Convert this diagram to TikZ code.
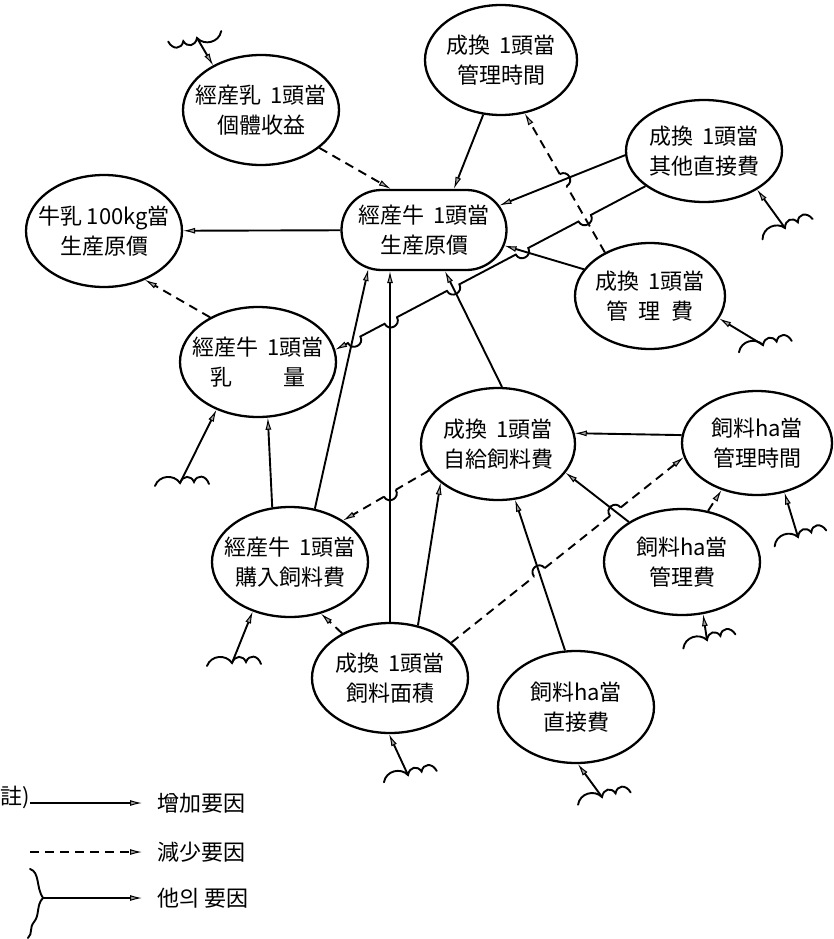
\documentclass[tikz,border=0pt]{standalone}
\usepackage{fontspec}
\newfontfamily\cjk{Noto Sans CJK JP}
\usetikzlibrary{shapes.geometric,shapes.misc,arrows.meta,calc}
\newcommand{\one}{\hspace{0.4em}1}
\begin{document}
\begin{tikzpicture}[x=1pt,y=-1pt,
  ln/.style={line width=1.9pt},
  inc/.style={ln,-{Latex[length=12pt,width=6pt,fill=gray!70,line width=1pt]}},
  dec/.style={inc,dash pattern=on 9pt off 6pt},
  dln/.style={ln,dash pattern=on 9pt off 6pt},
  ell/.style={ellipse,draw,line width=2.3pt,inner sep=0pt},
  txt/.style={align=center,font=\cjk\fontsize{22}{30}\selectfont,inner sep=0pt},
  wave/.style={line width=1.9pt,line cap=round},
  ext/.pic={\draw[wave] (-25,3) .. controls (-21,-8) and (-6,-9) .. (0,0)
      .. controls (3,-8) and (11,-8) .. (14,-1) .. controls (17,-9) and (26,-8) .. (29,1);}
]
\useasboundingbox (0,0) rectangle (833,939);

% nodes
\node[ell,minimum width=156pt,minimum height=110pt] (A) at (261,110) {};
\node[txt] (At) at (A) {經産乳\one 頭當\\個體收益};
\node[ell,minimum width=156pt,minimum height=112pt] (B) at (104,231) {};
\node[txt] (Bt) at (B) {牛乳 100kg當\\生産原價};
\node[rounded rectangle,draw,line width=2.3pt,inner sep=0pt,minimum width=165pt,minimum height=80pt] (C) at (424,230) {};
\node[txt] (Ct) at (C) {經産牛\one 頭當\\生産原價};
\node[ell,minimum width=152pt,minimum height=110pt] (D) at (501,60) {};
\node[txt] (Dt) at (D) {成換\one 頭當\\管理時間};
\node[ell,minimum width=156pt,minimum height=102pt] (E) at (704,151) {};
\node[txt] (Et) at (E) {成換\one 頭當\\其他直接費};
\node[ell,minimum width=150pt,minimum height=106pt] (F) at (650,296) {};
\node[txt] (Ft) at (F) {成換\one 頭當\\管\hspace{0.5em}理\hspace{0.5em}費};
\node[ell,minimum width=156pt,minimum height=110pt] (G) at (258,362) {};
\node[txt] (Gt) at (G) {經産牛\one 頭當\\乳\hspace{2.3em}量};
\node[ell,minimum width=154pt,minimum height=112pt] (H) at (498,444) {};
\node[txt] (Ht) at (H) {成換\one 頭當\\自給飼料費};
\node[ell,minimum width=150pt,minimum height=104pt] (I) at (757,443) {};
\node[txt] (It) at (I) {飼料ha當\\管理時間};
\node[ell,minimum width=156pt,minimum height=110pt] (J) at (290,562) {};
\node[txt] (Jt) at (J) {經産牛\one 頭當\\購入飼料費};
\node[ell,minimum width=156pt,minimum height=106pt] (K) at (682,562) {};
\node[txt] (Kt) at (K) {飼料ha當\\管理費};
\node[ell,minimum width=156pt,minimum height=110pt] (L) at (390,678) {};
\node[txt] (Lt) at (L) {成換\one 頭當\\飼料面積};
\node[ell,minimum width=156pt,minimum height=112pt] (M) at (576,707) {};
\node[txt] (Mt) at (M) {飼料ha當\\直接費};

% external factors
\coordinate (xA) at (197,38);
\coordinate (xE) at (785,228);
\coordinate (xF) at (763,345);
\coordinate (xG) at (180,483);
\coordinate (xJ) at (232,663);
\coordinate (xL) at (408,775);
\coordinate (xM) at (602,797);
\coordinate (xK) at (707,640);
\coordinate (xI) at (798,537);
\pic[rotate=189] at (xA) {ext};
\pic[rotate=20] at (xE) {ext};
\pic[rotate=10] at (xF) {ext};
\pic at (xG) {ext};
\pic at (xJ) {ext};
\pic[rotate=10] at (xL) {ext};
\pic[rotate=11] at (xM) {ext};
\pic[rotate=13] at (xK) {ext};
\pic[rotate=15] at (xI) {ext};
\draw[inc] (xA) -- (A.137);
\draw[inc] (xE) -- (E.-36);
\draw[inc] (xF) -- (F.-18);
\draw[inc] (xG) -- (G.-131);
\draw[inc] (xJ) -- (J.-127);
\draw[inc] (xL) -- (L.-91);
\draw[inc] (xM) -- (M.-88);
\draw[inc] (xK) -- (K.-68);
\draw[inc] (xI) -- (I.-61);

% connectors
\draw[dec] (A.-33) -- (C.129);
\draw[inc] (C) -- (B);
\draw[dec] (G.137) -- (B.-50);
\draw[inc] (D.-108) -- (C.54);
\draw[inc] (E.183) -- (C.18);
\draw[inc] (F.158) -- (C.-11);
\draw[inc] (H.86) -- (C.-63);
\draw[inc] (L.north) -- (L.north |- C.south);
\draw[inc] (J.65) -- (C.-145);
\draw[inc] (J.108) -- (G.-80);
\draw[inc] (I.174) -- (H.8);
\draw[inc] (K.143) -- (H.-23);
\draw[inc] (M.101) -- (H.-73);
\draw[inc] (L.62) -- (H.-146);
\draw[dec] (L.137) -- (J.-59);
\draw[dec] (K.63) -- (I.-127);

% dashed connectors with hops
\path ($(F.136)!0.477!(D.-66)$) coordinate (fd1) ($(F.136)!0.563!(D.-66)$) coordinate (fd2);
\draw[dln] (F.136) -- (fd1);
\draw[ln] (fd1) .. controls ($(fd1)+(8.1,-4.7)$) and ($(fd2)+(8.1,-4.7)$) .. (fd2);
\draw[dec] (fd2) -- (D.-66);

\path ($(H.-159)!0.386!(J.38)$) coordinate (hj1) ($(H.-159)!0.524!(J.38)$) coordinate (hj2);
\draw[dln] (H.-159) -- (hj1);
\draw[ln] (hj1) .. controls ($(hj1)+(4.7,8)$) and ($(hj2)+(4.7,8)$) .. (hj2);
\draw[dec] (hj2) -- (J.38);

\path ($(L.30)!0.356!(I.-169)$) coordinate (li1) ($(L.30)!0.402!(I.-169)$) coordinate (li2)
      ($(L.30)!0.683!(I.-169)$) coordinate (li3) ($(L.30)!0.729!(I.-169)$) coordinate (li4);
\draw[dln] (L.30) -- (li1);
\draw[ln] (li1) .. controls ($(li1)+(-5.8,-7.3)$) and ($(li2)+(-5.8,-7.3)$) .. (li2);
\draw[dln] (li2) -- (li3);
\draw[ln] (li3) .. controls ($(li3)+(-5.8,-7.3)$) and ($(li4)+(-5.8,-7.3)$) .. (li4);
\draw[dec] (li4) -- (I.-169);

% solid connector with hops (bridges bulge downward)
\path ($(E.211)!0.176!(G.9)$) coordinate (eg1) ($(E.211)!0.216!(G.9)$) coordinate (eg2)
      ($(E.211)!0.378!(G.9)$) coordinate (eg3) ($(E.211)!0.418!(G.9)$) coordinate (eg4)
      ($(E.211)!0.600!(G.9)$) coordinate (eg5) ($(E.211)!0.640!(G.9)$) coordinate (eg6)
      ($(E.211)!0.801!(G.9)$) coordinate (eg7) ($(E.211)!0.841!(G.9)$) coordinate (eg8)
      ($(E.211)!0.919!(G.9)$) coordinate (eg9) ($(E.211)!0.959!(G.9)$) coordinate (eg10);
\draw[inc] (E.211) -- (eg1) .. controls ($(eg1)+(4.3,8.2)$) and ($(eg2)+(4.3,8.2)$) .. (eg2)
  -- (eg3) .. controls ($(eg3)+(4.3,8.2)$) and ($(eg4)+(4.3,8.2)$) .. (eg4)
  -- (eg5) .. controls ($(eg5)+(4.3,8.2)$) and ($(eg6)+(4.3,8.2)$) .. (eg6)
  -- (eg7) .. controls ($(eg7)+(4.3,8.2)$) and ($(eg8)+(4.3,8.2)$) .. (eg8)
  -- (eg9) .. controls ($(eg9)+(4.3,8.2)$) and ($(eg10)+(4.3,8.2)$) .. (eg10)
  -- (G.9);

% legend
\node[txt,anchor=west] (note) at (0,797) {註)};
\coordinate (l1a) at (30,803); \coordinate (l1b) at (142,803);
\coordinate (l2a) at (30,852); \coordinate (l2b) at (142,852);
\coordinate (l3a) at (43,898); \coordinate (l3b) at (142,898);
\node[txt,anchor=west] (l1) at (157,803) {增加要因};
\node[txt,anchor=west] (l2) at (157,852) {減少要因};
\node[txt,anchor=west] (l3) at (157,898) {他의 要因};
\draw[inc] (l1a) -- (l1b);
\draw[dec] (l2a) -- (l2b);
\draw[wave] (30,869) .. controls (40,872) and (36,888) .. (l3a)
  .. controls (36,905) and (40,915) .. (34,922) .. controls (29,928) and (33,933) .. (28,938);
\draw[inc] (l3a) -- (l3b);
\end{tikzpicture}
\end{document}
